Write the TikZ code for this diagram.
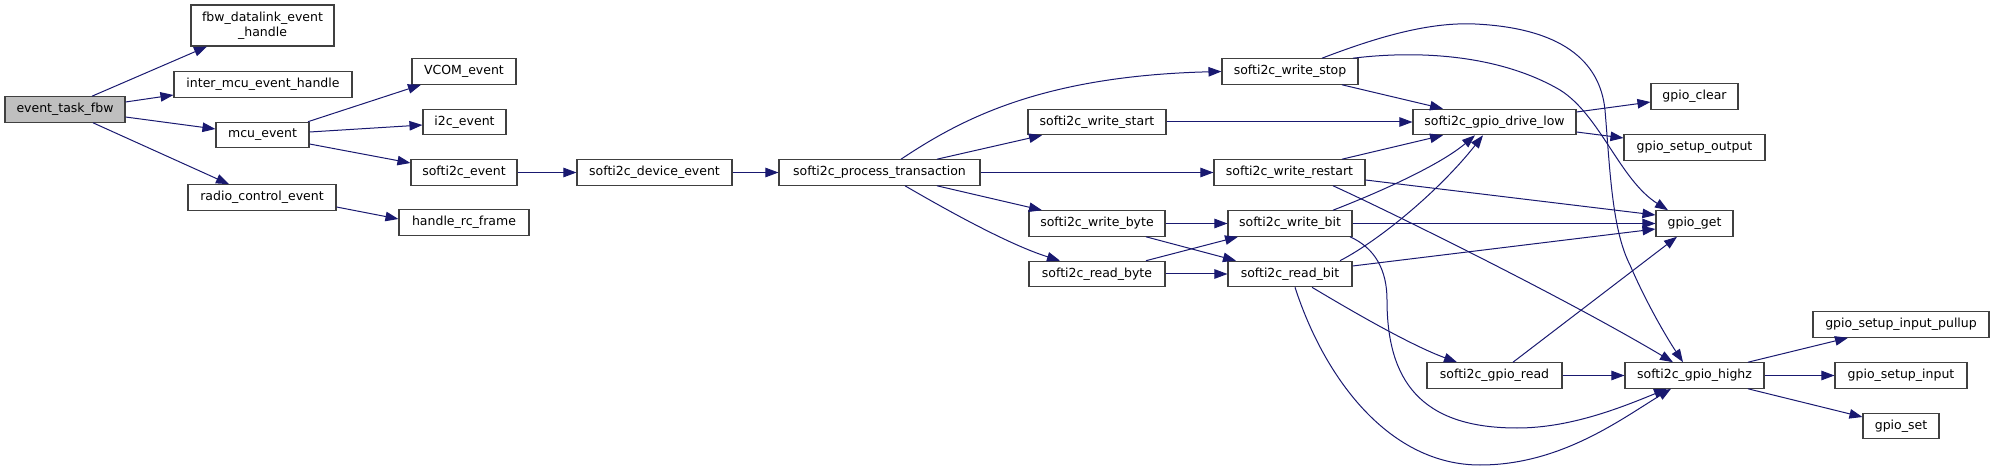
\documentclass[tikz,border=0pt]{standalone}
\usepackage{fontspec}
\setmainfont{DejaVu Sans}
\usetikzlibrary{arrows.meta,calc}
\definecolor{edgec}{RGB}{25,25,112}
\definecolor{boxc}{RGB}{64,64,64}
\tikzset{
  box/.style={draw=boxc,line width=1.1pt,fill=white,inner sep=0pt,minimum height=25.5pt,font=\fontsize{12.5}{15}\selectfont,align=center},
  root/.style={box,fill=black!25},
  edge/.style={draw=edgec,line width=1pt,-{Triangle[length=13pt,width=9.5pt]}}
}
\begin{document}
\begin{tikzpicture}[x=1pt,y=-1pt]
\useasboundingbox (0,0) rectangle (1995,470);
% nodes
\node[root,minimum width=120pt] (etf) at (65,109.5) {event\_task\_fbw};
\node[box,minimum width=143pt,minimum height=41pt] (fbw) at (262.5,25.5) {fbw\_datalink\_event\\\_handle};
\node[box,minimum width=178pt] (imeh) at (263,84.5) {inter\_mcu\_event\_handle};
\node[box,minimum width=93pt] (mcu) at (262.5,135) {mcu\_event};
\node[box,minimum width=148pt] (rce) at (262,197.5) {radio\_control\_event};
\node[box,minimum width=104pt] (vcom) at (464,71.5) {VCOM\_event};
\node[box,minimum width=83pt] (i2c) at (464.5,122) {i2c\_event};
\node[box,minimum width=106pt] (sev) at (464,172.5) {softi2c\_event};
\node[box,minimum width=130pt] (hrc) at (464,222.5) {handle\_rc\_frame};
\node[box,minimum width=155pt] (sde) at (654.5,172.5) {softi2c\_device\_event};
\node[box,minimum width=201pt] (spt) at (879.5,172.5) {softi2c\_process\_transaction};
\node[box,minimum width=136pt] (wstop) at (1290,71.5) {softi2c\_write\_stop};
\node[box,minimum width=138pt] (wstart) at (1097,122) {softi2c\_write\_start};
\node[box,minimum width=163pt] (gdl) at (1494.5,122) {softi2c\_gpio\_drive\_low};
\node[box,minimum width=151pt] (wrestart) at (1289.5,172.5) {softi2c\_write\_restart};
\node[box,minimum width=136pt] (wbyte) at (1097,223.5) {softi2c\_write\_byte};
\node[box,minimum width=124pt] (wbit) at (1290,223.5) {softi2c\_write\_bit};
\node[box,minimum width=136pt] (rbyte) at (1097,274) {softi2c\_read\_byte};
\node[box,minimum width=124pt] (rbit) at (1290,274) {softi2c\_read\_bit};
\node[box,minimum width=135pt] (gread) at (1494.5,375.5) {softi2c\_gpio\_read};
\node[box,minimum width=87pt] (gclear) at (1694.5,96.5) {gpio\_clear};
\node[box,minimum width=141pt] (gso) at (1694.5,147.5) {gpio\_setup\_output};
\node[box,minimum width=77pt] (gget) at (1694.5,223.5) {gpio\_get};
\node[box,minimum width=139pt] (ghz) at (1694.5,375.5) {softi2c\_gpio\_highz};
\node[box,minimum width=176pt] (gsip) at (1901,324.5) {gpio\_setup\_input\_pullup};
\node[box,minimum width=132pt] (gsi) at (1901,375.5) {gpio\_setup\_input};
\node[box,minimum width=76pt] (gset) at (1901,426) {gpio\_set};
% edges
\draw[edge] ($(etf.north)+(27,0)$) -- ($(fbw.south)+(-55.5,0)$);
\draw[edge] ($(etf.east)+(0,-7.5)$) -- ($(imeh.west)+(0,10.5)$);
\draw[edge] ($(etf.east)+(0,7.5)$) -- ($(mcu.west)+(0,-6)$);
\draw[edge] ($(etf.south)+(28,0)$) -- ($(rce.north)+(-33,0)$);
\draw[edge] ($(mcu.north)+(45.5,0)$) -- ($(vcom.south)+(-43,0)$);
\draw[edge] ($(mcu.east)+(0,-3)$) -- ($(i2c.west)+(0,3)$);
\draw[edge] ($(mcu.east)+(0,9)$) -- ($(sev.west)+(0,-9.5)$);
\draw[edge] ($(rce.east)+(0,9.5)$) -- ($(hrc.west)+(0,-3.5)$);
\draw[edge] (sev.east) -- (sde.west);
\draw[edge] (sde.east) -- (spt.west);
\draw[edge] ($(spt.north)+(21.5,0)$) .. controls (960,120) and (1040,76) .. (wstop.west);
\draw[edge] ($(spt.north)+(57.5,0)$) -- ($(wstart.south)+(-55,0)$);
\draw[edge] (spt.east) -- (wrestart.west);
\draw[edge] ($(spt.south)+(57.5,0)$) -- ($(wbyte.north)+(-55,0)$);
\draw[edge] ($(spt.south)+(25.5,0)$) .. controls (950,212) and (1010,245) .. ($(rbyte.north)+(-37,0)$);
\draw[edge] ($(wstop.south)+(52,0)$) -- ($(gdl.north)+(-51.5,0)$);
\draw[edge] ($(wstop.north)+(32,0)$) .. controls (1380,36) and (1430,22) .. (1475,24)
  .. controls (1560,28) and (1600,60) .. (1605,110)
  .. controls (1610,170) and (1612,230) .. (1630,265)
  .. controls (1645,300) and (1665,335) .. ($(ghz.north)+(-11.5,0)$);
\draw[edge] ($(wstop.north)+(63,0)$) .. controls (1420,50) and (1500,55) .. (1560,90)
  .. controls (1600,115) and (1620,180) .. ($(gget.north)+(-26.5,0)$);
\draw[edge] (wstart.east) -- (gdl.west);
\draw[edge] ($(wrestart.north)+(52.5,0)$) -- ($(gdl.south)+(-51.5,0)$);
\draw[edge] ($(wrestart.east)+(0,7.5)$) -- ($(gget.west)+(0,-8.5)$);
\draw[edge] ($(wrestart.south)+(43.5,0)$) .. controls (1380,207) and (1560,295) .. ($(ghz.north)+(-21.5,0)$);
\draw[edge] (wbyte.east) -- (wbit.west);
\draw[edge] ($(wbyte.south)+(49,0)$) -- ($(rbit.north)+(-54,0)$);
\draw[edge] ($(rbyte.north)+(49,0)$) -- ($(wbit.south)+(-52,0)$);
\draw[edge] (rbyte.east) -- (rbit.west);
\draw[edge] ($(wbit.north)+(43,0)$) .. controls (1380,192) and (1440,165) .. ($(gdl.south)+(-19.5,0)$);
\draw[edge] (wbit.east) -- (gget.west);
\draw[edge] ($(wbit.south)+(60,0)$) .. controls (1375,248) and (1387,270) .. (1387,300)
  .. controls (1387,380) and (1420,428) .. (1517,428)
  .. controls (1570,428) and (1620,408) .. ($(ghz.south)+(-27.5,0)$);
\draw[edge] ($(rbit.north)+(50,0)$) .. controls (1380,240) and (1440,190) .. ($(gdl.south)+(-11.5,0)$);
\draw[edge] ($(rbit.east)+(0,-8)$) -- ($(gget.west)+(0,5.5)$);
\draw[edge] ($(rbit.south)+(22,0)$) .. controls (1350,310) and (1410,345) .. ($(gread.north)+(-37.5,0)$);
\draw[edge] ($(rbit.south)+(5,0)$) .. controls (1325,380) and (1390,465) .. (1480,465)
  .. controls (1560,465) and (1620,420) .. ($(ghz.south)+(-23.5,0)$);
\draw[edge] ($(gread.north)+(18.5,0)$) -- ($(gget.south)+(-17.5,0)$);
\draw[edge] (gread.east) -- (ghz.west);
\draw[edge] ($(gdl.east)+(0,-10)$) -- ($(gclear.west)+(0,5.5)$);
\draw[edge] ($(gdl.east)+(0,10)$) -- ($(gso.west)+(0,-9.5)$);
\draw[edge] ($(ghz.north)+(53.5,0)$) -- ($(gsip.south)+(-53,0)$);
\draw[edge] (ghz.east) -- (gsi.west);
\draw[edge] ($(ghz.south)+(53.5,0)$) -- ($(gset.west)+(0,-9)$);
\end{tikzpicture}
\end{document}
